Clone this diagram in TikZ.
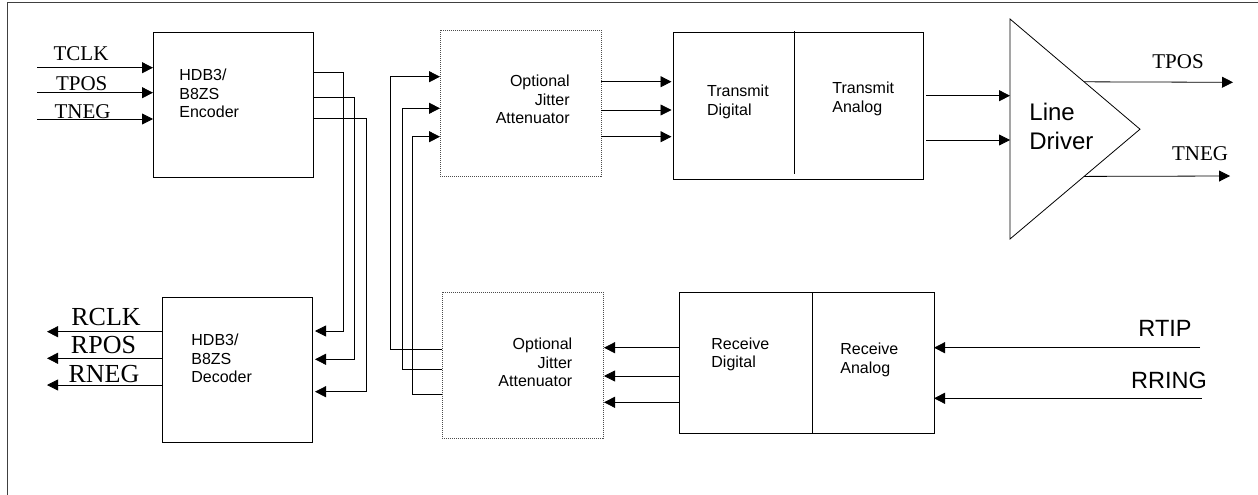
\documentclass[tikz,border=0pt]{standalone}
\usepackage{fontspec}
\setmainfont{Liberation Serif}
\setsansfont{Liberation Sans}
\usetikzlibrary{arrows.meta,calc}
\begin{document}
\begin{tikzpicture}[x=1pt,y=-1pt,
  line width=0.8pt,
  box/.style={draw, inner sep=0pt, outer sep=0pt},
  dotbox/.style={draw=black!70, dash pattern=on 1pt off 1pt, inner sep=0pt, outer sep=0pt},
  arr/.style={-{Triangle[length=11pt,width=11pt]}},
  wire/.style={line width=0.8pt},
  btext/.style={font=\sffamily\fontsize{16}{18.5}\selectfont, inner sep=0pt},
  slabel/.style={font=\fontsize{21}{24}\selectfont, inner sep=0pt, anchor=base},
  blabel/.style={font=\fontsize{26}{28}\selectfont, inner sep=0pt, anchor=base},
  alabel/.style={font=\sffamily\fontsize{23.5}{26}\selectfont, inner sep=0pt, anchor=base}]
\useasboundingbox (0,0) rectangle (1258,495);
% frame
\draw[line width=1pt, black!75] (7,495) -- (7,3) -- (1258,3);

% boxes
\node[box, minimum width=160pt, minimum height=145pt] (enc) at (233,104.5) {};
\node[box, minimum width=150pt, minimum height=145pt] (dec) at (237,369.5) {};
\node[dotbox, minimum width=161pt, minimum height=146pt] (uja) at (520.5,103) {};
\node[dotbox, minimum width=161pt, minimum height=146pt] (lja) at (522.5,365) {};
\node[box, minimum width=250pt, minimum height=147pt] (tx) at (798,105.5) {};
\node[box, minimum width=255pt, minimum height=141pt] (rx) at (806.5,362.5) {};
\draw (794,31.5) -- (794,174);
\draw (rx.north -| 812,0) -- (rx.south -| 812,0);

% line driver triangle
\coordinate (ldtop) at (1010,19);
\coordinate (ldbot) at (1010,239);
\coordinate (ldapex) at (1140,129.2);
\draw (ldtop) -- (ldapex) -- (ldbot) -- cycle;

% box texts
\node[btext, align=left, anchor=west] (enctxt) at (179,93.5) {HDB3/\\B8ZS\\Encoder};
\node[btext, align=left, anchor=west] (dectxt) at (191,358.5) {HDB3/\\B8ZS\\Decoder};
\node[btext, align=right, anchor=east] (ujatxt) at (570,99.3) {Optional\\Jitter\\Attenuator};
\node[btext, align=right, anchor=east] (ljatxt) at (572.7,362.4) {Optional\\Jitter\\Attenuator};
\node[btext, align=left, anchor=west] (txd) at (706.7,101.7) {Transmit\\Digital};
\node[btext, align=left, anchor=west] (txa) at (832,98.7) {Transmit\\Analog};
\node[btext, align=left, anchor=west] (rxd) at (711,354.4) {Receive\\Digital};
\node[btext, align=left, anchor=west] (rxa) at (840,360) {Receive\\Analog};
\node[font=\sffamily\fontsize{24}{29}\selectfont, inner sep=0pt, align=left, anchor=west] (ldtxt) at (1029,126.2) {Line\\Driver};

% encoder inputs
\coordinate (tclk) at (37,67.7);
\coordinate (tpos) at (37,92.7);
\coordinate (tneg) at (37,119);
\draw[arr] (tclk) -- (enc.west |- tclk);
\draw[arr] (tpos) -- (enc.west |- tpos);
\draw[arr] (tneg) -- (enc.west |- tneg);
\node[slabel] (ltclk) at (81,60.7) {TCLK};
\node[slabel] (ltpos) at (81.7,90.7) {TPOS};
\node[slabel] (ltneg) at (82.5,118) {TNEG};

% decoder outputs
\coordinate (rclk) at (47,331.7);
\coordinate (rpos) at (47,358.3);
\coordinate (rneg) at (47,385);
\draw[arr] (dec.west |- rclk) -- (rclk);
\draw[arr] (dec.west |- rpos) -- (rpos);
\draw[arr] (dec.west |- rneg) -- (rneg);
\node[blabel] (lrclk) at (106,325.7) {RCLK};
\node[blabel] (lrpos) at (103.5,353) {RPOS};
\node[blabel] (lrneg) at (104,382) {RNEG};

% encoder -> decoder
\draw[arr, shorten >=3pt] (enc.east |- 0,72.7) -| (343,331) -- (dec.east |- 0,331);
\draw[arr, shorten >=3pt] (enc.east |- 0,97.5) -| (354.3,359.3) -- (dec.east |- 0,359.3);
\draw[arr, shorten >=3pt] (enc.east |- 0,118) -| (366.5,391.7) -- (dec.east |- 0,391.7);

% lower JA -> upper JA
\draw[arr] (lja.west |- 0,349.3) -| (390,76.7) -- (uja.west |- 0,76.7);
\draw[arr] (lja.west |- 0,369.3) -| (402,108.3) -- (uja.west |- 0,108.3);
\draw[arr] (lja.west |- 0,394.3) -| (412.7,136.7) -- (uja.west |- 0,136.7);

% upper JA -> transmit
\draw[arr, shorten >=1.5pt] (uja.east |- 0,81.7) -- (tx.west |- 0,81.7);
\draw[arr, shorten >=1.5pt] (uja.east |- 0,110) -- (tx.west |- 0,110);
\draw[arr, shorten >=1.5pt] (uja.east |- 0,136.7) -- (tx.west |- 0,136.7);

% transmit -> line driver
\draw[arr, shorten <=3pt] (tx.east |- 0,95.7) -- (ldtop |- 0,95.7);
\draw[arr, shorten <=3pt] (tx.east |- 0,140) -- (ldtop |- 0,140);

% line driver outputs
\coordinate (otpos) at (1233,82.3);
\coordinate (otneg) at (1230,176);
\draw[arr] ($(ldapex)!0.43!(ldtop)$) -- (otpos);
\draw[arr] ($(ldapex)!0.43!(ldbot)$) -- (otneg);
\node[slabel] (lotpos) at (1178,68.3) {TPOS};
\node[slabel] (lotneg) at (1200,160.7) {TNEG};

% receive digital -> lower JA
\draw[arr, shorten >=1pt] (rx.west |- 0,347.7) -- (lja.east |- 0,347.7);
\draw[arr, shorten >=1pt] (rx.west |- 0,376) -- (lja.east |- 0,376);
\draw[arr, shorten >=1pt] (rx.west |- 0,402.3) -- (lja.east |- 0,402.3);

% RTIP / RRING
\coordinate (irtip) at (1200,347.7);
\coordinate (irring) at (1201.7,398.3);
\draw[arr] (irtip) -- (rx.east |- irtip);
\draw[arr] (irring) -- (rx.east |- irring);
\node[alabel] (lrtip) at (1165,336.7) {RTIP};
\node[alabel] (lrring) at (1169,388.3) {RRING};
\end{tikzpicture}
\end{document}
